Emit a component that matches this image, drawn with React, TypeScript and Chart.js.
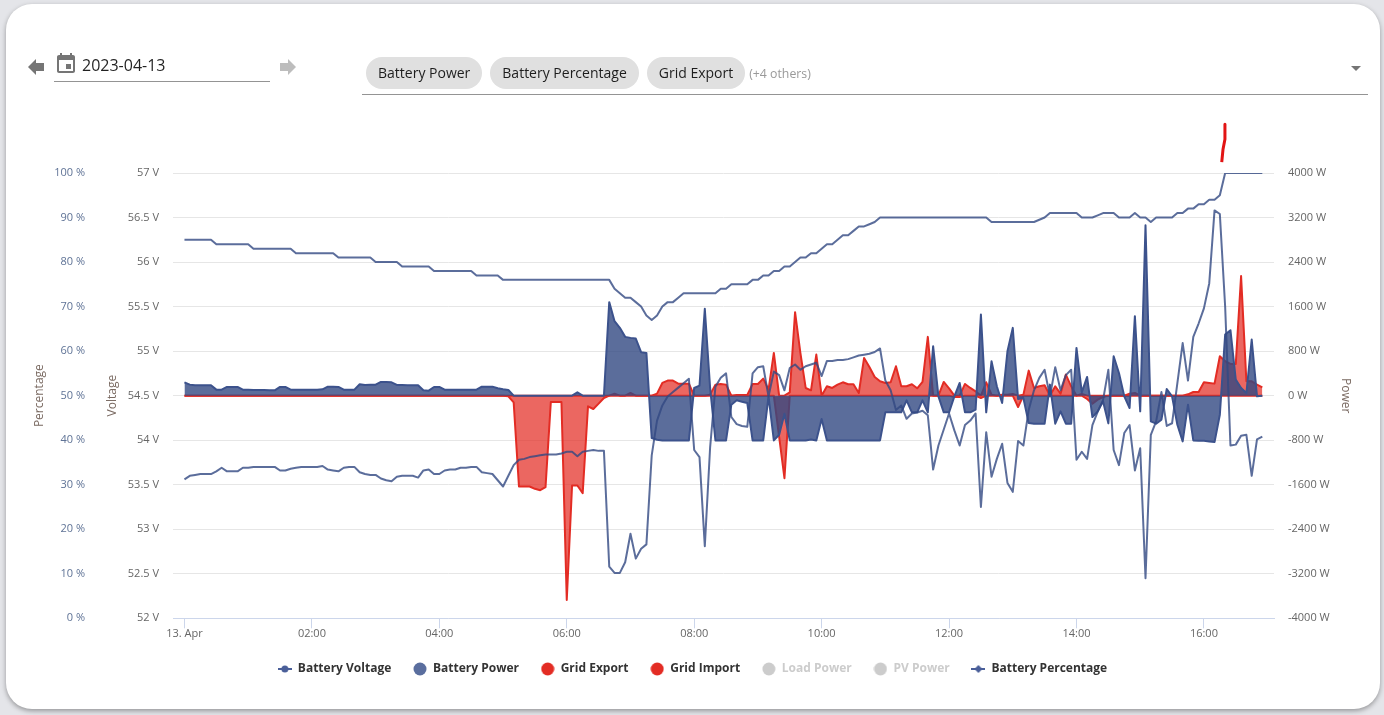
import { useEffect, useRef } from "react";
import { Chart, registerables } from "chart.js";

Chart.register(...registerables);

// one reading every 5 minutes, each row below is one hour
const sampleHours = Array.from({ length: 204 }, (_, i) => (i * 5) / 60);

const batteryVoltage = [
  53.56, 53.6, 53.61, 53.62, 53.62, 53.62, 53.65, 53.69, 53.65, 53.65, 53.65, 53.69,
  53.69, 53.7, 53.7, 53.7, 53.7, 53.7, 53.66, 53.66, 53.68, 53.69, 53.7, 53.7,
  53.7, 53.7, 53.71, 53.67, 53.66, 53.65, 53.69, 53.7, 53.7, 53.64, 53.62, 53.61,
  53.61, 53.57, 53.55, 53.54, 53.59, 53.6, 53.6, 53.6, 53.58, 53.66, 53.67, 53.62,
  53.62, 53.66, 53.67, 53.67, 53.69, 53.69, 53.7, 53.7, 53.64, 53.63, 53.62, 53.55,
  53.48, 53.6, 53.72, 53.78, 53.79, 53.81, 53.82, 53.83, 53.84, 53.84, 53.84, 53.85,
  53.87, 53.87, 53.82, 53.87, 53.88, 53.89, 53.88, 53.88, 52.58, 52.51, 52.51, 52.63,
  52.95, 52.67, 52.78, 52.83, 53.83, 54.22, 54.39, 54.49, 54.54, 54.59, 54.64, 54.69,
  53.89, 53.81, 52.81, 53.92, 54.6, 54.7, 54.75, 54.26, 54.18, 54.16, 54.15, 54.75,
  54.82, 54.83, 54.49, 54.77, 54.73, 54.56, 54.81, 54.85, 54.79, 54.83, 54.85, 54.87,
  54.72, 54.89, 54.89, 54.9, 54.9, 54.91, 54.93, 54.95, 54.96, 54.97, 54.99, 55.03,
  54.67, 54.56, 54.34, 54.39, 54.24, 54.3, 54.31, 54.33, 54.28, 53.67, 53.94, 54.12,
  54.3, 54.11, 53.94, 54.17, 54.22, 54.3, 53.25, 54.09, 53.59, 53.79, 53.96, 53.52,
  53.42, 53.99, 53.94, 54.34, 54.56, 54.7, 54.79, 54.49, 54.82, 54.56, 54.73, 54.79,
  53.78, 53.87, 53.79, 54.17, 54.32, 54.45, 54.79, 53.89, 53.72, 54.08, 54.17, 53.66,
  53.91, 52.45, 54.06, 54.21, 54.54, 54.16, 54.19, 54.64, 55.09, 54.67, 55.16, 55.31,
  55.48, 55.76, 56.58, 56.54, 55.5, 53.94, 53.95, 54.05, 54.06, 53.6, 54.01, 54.04,
];

const batteryPower = [
  240, 198, 186, 186, 186, 186, 108, 108, 156, 156, 156, 108,
  108, 102, 102, 100, 96, 96, 156, 156, 108, 108, 108, 108,
  108, 108, 114, 162, 162, 156, 108, 108, 108, 204, 192, 198,
  198, 246, 246, 240, 192, 192, 186, 186, 186, 96, 90, 156,
  156, 108, 108, 108, 108, 108, 108, 108, 162, 162, 162, 132,
  114, 102, 0, 0, 0, 0, 0, 0, 0, 0, 0, 0,
  0, 0, 60, 0, 0, 0, 0, 0, 1680, 1338, 1218, 1056,
  1038, 1026, 780, 768, -762, -792, -804, -804, -804, -804, -804, -804,
  138, 180, 1560, 138, -804, -804, -804, -162, -84, -108, -132, -804,
  -804, -804, -12, -804, -702, -324, -804, -804, -804, -804, -786, -804,
  -420, -804, -804, -804, -804, -804, -804, -804, -804, -804, -804, -804,
  -300, -300, -300, -300, -84, -300, -300, -84, -300, 888, -12, -300,
  -300, -12, 228, -300, -300, -252, 1458, -300, 618, 168, -132, 798,
  1218, -60, -42, -492, -504, -504, -504, 198, -504, -282, -504, -504,
  858, 60, 336, -384, -282, -102, -498, 708, 408, -12, -222, 1428,
  -282, 3060, -462, -504, -432, 120, -12, -522, -822, -162, -804, -810,
  -810, -822, -834, -342, 1098, 1176, 288, 138, 48, 1008, -12, 0,
];

const gridExport = [
  0, 0, 0, 0, 0, 0, 0, 0, 0, 0, 0, 0,
  0, 0, 0, 0, 0, 0, 0, 0, 0, 0, 0, 0,
  0, 0, 0, 0, 0, 0, 0, 0, 0, 0, 0, 0,
  0, 0, 0, 0, 0, 0, 0, 0, 0, 0, 0, 0,
  0, 0, 0, 0, 0, 0, 0, 0, 0, 0, 0, 0,
  0, -12, -120, -1632, -1632, -1632, -1674, -1698, -1644, -114, -114, -114,
  -3672, -1614, -1614, -1752, -192, -240, -144, -42, 0, 0, 0, 0,
  0, 0, 0, 0, 0, 0, 0, 0, 0, 0, 0, 0,
  0, 0, 0, 0, 0, 0, 0, 0, 0, 0, 0, 0,
  0, 0, 0, 0, -740, -1482, 0, 0, 0, 0, 0, 0,
  0, 0, 0, 0, 0, 0, 0, 0, 0, 0, 0, 0,
  0, 0, 0, 0, 0, 0, 0, 0, 0, 0, 0, 0,
  0, -24, -24, 0, 0, 0, -42, 0, 0, 0, 0, 0,
  0, -204, 0, 0, 0, 0, 0, 0, 0, 0, 0, 0,
  0, 0, -60, -144, -72, -24, 0, 0, 0, 0, 0, 0,
  0, 0, 0, 0, 0, 0, 0, 0, 0, 0, 0, 0,
  0, 0, 0, 0, 0, 0, 0, 0, 0, 0, 0, 0,
];

const gridImport = [
  0, 0, 0, 0, 0, 0, 0, 0, 0, 0, 0, 0,
  0, 0, 0, 0, 0, 0, 0, 0, 0, 0, 0, 0,
  0, 0, 0, 0, 0, 0, 0, 0, 0, 0, 0, 0,
  0, 0, 0, 0, 0, 0, 0, 0, 0, 0, 0, 0,
  0, 0, 0, 0, 0, 0, 0, 0, 0, 0, 0, 0,
  0, 0, 0, 0, 0, 0, 0, 0, 0, 0, 0, 0,
  0, 0, 0, 0, 0, 0, 0, 0, 0, 36, 0, 0,
  48, 0, 0, 0, 0, 36, 228, 270, 270, 216, 216, 216,
  0, 0, 0, 18, 198, 210, 198, 0, 12, 12, 12, 210,
  210, 306, 108, 768, 0, 0, 60, 1500, 768, 138, 96, 738,
  0, 168, 138, 198, 240, 204, 204, 48, 678, 516, 336, 258,
  228, 240, 528, 168, 168, 204, 132, 246, 1056, 0, 0, 246,
  132, 0, 0, 210, 138, 78, 0, 240, 18, 0, 18, 18,
  30, 0, 18, 450, 138, 168, 186, 0, 168, 36, 378, 168,
  0, 30, 0, 0, 0, 0, 0, 0, 0, 0, 36, 48,
  0, 0, 0, 0, 0, 0, 0, 0, 0, 24, 66, 66,
  240, 228, 216, 708, 618, 570, 570, 2148, 258, 258, 198, 150,
];

const batteryPercentage = [
  85, 85, 85, 85, 85, 85, 84, 84, 84, 84, 84, 84,
  84, 83, 83, 83, 83, 83, 83, 83, 83, 82, 82, 82,
  82, 82, 82, 82, 82, 81, 81, 81, 81, 81, 81, 81,
  80, 80, 80, 80, 80, 79, 79, 79, 79, 79, 79, 78,
  78, 78, 78, 78, 78, 78, 78, 77, 77, 77, 77, 77,
  76, 76, 76, 76, 76, 76, 76, 76, 76, 76, 76, 76,
  76, 76, 76, 76, 76, 76, 76, 76, 76, 74, 73, 72,
  72, 71, 70, 68, 67, 68, 70, 71, 71, 72, 73, 73,
  73, 73, 73, 73, 73, 74, 74, 75, 75, 75, 75, 76,
  76, 77, 77, 78, 78, 79, 79, 80, 81, 81, 82, 82,
  83, 84, 84, 85, 86, 86, 87, 88, 88, 88.5, 89, 90,
  90, 90, 90, 90, 90, 90, 90, 90, 90, 90, 90, 90,
  90, 90, 90, 90, 90, 90, 90, 90, 89, 89, 89, 89,
  89, 89, 89, 89, 89, 89.5, 90, 91, 91, 91, 91, 91,
  91, 90, 90, 90, 90.5, 91, 91, 91, 90, 90, 90, 91,
  90, 90, 89, 90, 90, 90, 90, 91, 91, 92, 92, 93,
  93, 94, 94, 95, 100, 100, 100, 100, 100, 100, 100, 100,
];

// hand-drawn pen mark above the chart in the screenshot
const penMarkHours = [16.33, 16.33, 16.3, 16.28];
const penMarkWatts = [4878, 4608, 4428, 4194];

const chipLabels = ["Battery Power", "Battery Percentage", "Grid Export"];
const hiddenSeries = ["Load Power", "PV Power"];

const BLUE_LINE = "rgba(50, 72, 130, 0.8)";
const BLUE_FILL = "rgba(50, 72, 130, 0.8)";
const RED_LINE = "rgb(227, 44, 36)";
const RED_FILL = "rgba(227, 44, 36, 0.72)";
const TICK_COLOR = "#666666";
const TICK_FONT = { family: "'Open Sans'", size: 11 };
const TITLE_FONT = { family: "'Open Sans'", size: 12 };

function toPoints(values: number[]) {
  return values.map((y, i) => ({ x: sampleHours[i], y }));
}

// legend symbol: a short line with a marker on it, or only a big dot
function legendIcon(kind: "circle" | "diamond" | "dot", color: string) {
  const c = document.createElement("canvas");
  c.width = 14;
  c.height = 14;
  const g = c.getContext("2d")!;
  g.fillStyle = color;
  g.strokeStyle = color;
  if (kind === "dot") {
    g.beginPath();
    g.arc(7, 7, 6.5, 0, Math.PI * 2);
    g.fill();
    return c;
  }
  g.lineWidth = 2;
  g.beginPath();
  g.moveTo(0, 7);
  g.lineTo(14, 7);
  g.stroke();
  g.beginPath();
  if (kind === "circle") {
    g.arc(7, 7, 3.5, 0, Math.PI * 2);
  } else {
    g.moveTo(7, 3);
    g.lineTo(11, 7);
    g.lineTo(7, 11);
    g.lineTo(3, 7);
    g.closePath();
  }
  g.fill();
  return c;
}

function BatteryChart() {
  const canvasRef = useRef<HTMLCanvasElement>(null);

  useEffect(() => {
    if (!canvasRef.current) return;

    const legendItems = [
      { text: "Battery Voltage", icon: legendIcon("circle", "#4a5f99"), on: true },
      { text: "Battery Power", icon: legendIcon("dot", "#5a6e9e"), on: true },
      { text: "Grid Export", icon: legendIcon("dot", "#e32c24"), on: true },
      { text: "Grid Import", icon: legendIcon("dot", "#e32c24"), on: true },
      ...hiddenSeries.map((text) => ({ text, icon: legendIcon("dot", "#cccccc"), on: false })),
      { text: "Battery Percentage", icon: legendIcon("diamond", "#4a5f99"), on: true },
    ];

    const chart = new Chart(canvasRef.current, {
      type: "line",
      data: {
        datasets: [
          {
            label: "Battery Voltage",
            data: toPoints(batteryVoltage),
            yAxisID: "voltage",
            borderColor: BLUE_LINE,
            borderWidth: 2,
          },
          {
            label: "Battery Power",
            data: toPoints(batteryPower),
            yAxisID: "power",
            borderColor: "rgb(60, 82, 140)",
            backgroundColor: BLUE_FILL,
            borderWidth: 2,
            fill: "origin",
          },
          {
            label: "Grid Export",
            data: toPoints(gridExport),
            yAxisID: "power",
            borderColor: RED_LINE,
            backgroundColor: RED_FILL,
            borderWidth: 2,
            fill: "origin",
          },
          {
            label: "Grid Import",
            data: toPoints(gridImport),
            yAxisID: "power",
            borderColor: RED_LINE,
            backgroundColor: RED_FILL,
            borderWidth: 2,
            fill: "origin",
          },
          { label: "Load Power", data: [], yAxisID: "power" },
          { label: "PV Power", data: [], yAxisID: "power" },
          {
            label: "Battery Percentage",
            data: toPoints(batteryPercentage),
            yAxisID: "percentage",
            borderColor: BLUE_LINE,
            borderWidth: 2,
          },
          {
            label: "pen",
            data: penMarkHours.map((x, i) => ({ x, y: penMarkWatts[i] })),
            yAxisID: "power",
            borderColor: "rgb(226, 20, 20)",
            borderWidth: 3,
            clip: false,
          },
        ],
      },
      options: {
        responsive: false,
        animation: false,
        elements: { point: { radius: 0 }, line: { tension: 0, borderJoinStyle: "round" } },
        layout: { padding: { top: 173, bottom: 30, left: 32, right: 31 } },
        plugins: {
          tooltip: { enabled: false },
          legend: {
            position: "bottom",
            labels: {
              usePointStyle: true,
              pointStyleWidth: 14,
              padding: 21.7,
              color: "#333333",
              font: { family: "'Open Sans'", size: 12, weight: "bold" },
              generateLabels: () =>
                legendItems.map((item) => ({
                  text: item.text,
                  pointStyle: item.icon,
                  fontColor: item.on ? "#333333" : "#cccccc",
                  hidden: false,
                })),
            },
            onClick: () => {},
          },
        },
        scales: {
          x: {
            type: "linear",
            min: -0.18,
            max: 17.1,
            afterFit: (s) => { s.height = 23; },
            border: { color: "#ccd6eb" },
            grid: { drawOnChartArea: false, color: "#ccd6eb", tickLength: 10 },
            ticks: {
              stepSize: 2,
              includeBounds: false,
              autoSkip: false,
              maxRotation: 0,
              padding: -1,
              color: TICK_COLOR,
              font: TICK_FONT,
              callback: (v) => (v === 0 ? "13. Apr" : `${String(v).padStart(2, "0")}:00`),
            },
          },
          percentage: {
            type: "linear",
            position: "left",
            weight: 2,
            min: 0,
            max: 100,
            afterFit: (s) => { s.width = 73; },
            border: { display: false },
            grid: { drawOnChartArea: false, drawTicks: false },
            title: { display: true, text: "Percentage", color: "#7a6a62", font: TITLE_FONT, padding: 0 },
            ticks: { stepSize: 10, padding: 20, color: "#5f7396", font: TICK_FONT, callback: (v) => `${v} %` },
          },
          voltage: {
            type: "linear",
            position: "left",
            weight: 1,
            min: 52,
            max: 57,
            afterFit: (s) => { s.width = 68; },
            border: { display: false },
            grid: { drawOnChartArea: false, drawTicks: false },
            title: { display: true, text: "Voltage", color: "#7a6a62", font: TITLE_FONT, padding: 0 },
            ticks: { stepSize: 0.5, padding: 14, color: TICK_COLOR, font: TICK_FONT, callback: (v) => `${v} V` },
          },
          power: {
            type: "linear",
            position: "right",
            min: -4000,
            max: 4000,
            afterFit: (s) => { s.width = 79; },
            border: { display: false },
            grid: { color: "#e6e6e6", drawTicks: false },
            title: { display: true, text: "Power", color: "#7a6a62", font: TITLE_FONT, padding: 0 },
            ticks: { stepSize: 800, padding: 14, color: TICK_COLOR, font: TICK_FONT, callback: (v) => `${v} W` },
          },
        },
      },
    });

    return () => chart.destroy();
  }, []);

  return <canvas ref={canvasRef} width={1384} height={715} style={{ position: "absolute", left: 0, top: 0 }} />;
}

const arrowPoints = "0,8 8,0 8,4 16,4 16,12 8,12 8,16";

export default function App() {
  return (
    <div style={{ position: "relative", width: 1384, height: 715, overflow: "hidden", fontFamily: "'Open Sans'" }}>
      <style>{"body { margin: 0; background: #e4e5e9; }"}</style>
      <div
        style={{
          position: "absolute",
          left: 6,
          top: 4,
          width: 1374,
          height: 705,
          background: "#fff",
          borderRadius: 26,
          boxShadow: "0 2px 5px rgba(0,0,0,0.35)",
        }}
      />
      <BatteryChart />

      <svg width="16" height="16" style={{ position: "absolute", left: 28, top: 59 }}>
        <polygon points={arrowPoints} fill="#757575" />
      </svg>
      <svg width="24" height="24" viewBox="0 0 24 24" style={{ position: "absolute", left: 54, top: 52 }}>
        <path
          fill="#757575"
          d="M17 12h-5v5h5v-5zM16 1v2H8V1H6v2H5c-1.11 0-1.99.9-1.99 2L3 19c0 1.1.89 2 2 2h14c1.1 0 2-.9 2-2V5c0-1.1-.9-2-2-2h-1V1h-2zm3 18H5V8h14v11z"
        />
      </svg>
      <div style={{ position: "absolute", left: 82, top: 54, fontSize: 16, lineHeight: "22px", color: "rgba(0,0,0,0.87)" }}>
        2023-04-13
      </div>
      <div style={{ position: "absolute", left: 54, top: 81, width: 216, height: 1, background: "#949494" }} />
      <svg width="16" height="16" style={{ position: "absolute", left: 280, top: 59, transform: "scaleX(-1)" }}>
        <polygon points={arrowPoints} fill="#bdbdbd" />
      </svg>

      <div style={{ position: "absolute", left: 366, top: 57, height: 32, display: "flex", alignItems: "center", gap: 8 }}>
        {chipLabels.map((label) => (
          <span
            key={label}
            style={{
              height: 32,
              lineHeight: "32px",
              padding: "0 12px",
              borderRadius: 16,
              background: "#e0e0e0",
              fontSize: 14,
              color: "rgba(0,0,0,0.87)",
            }}
          >
            {label}
          </span>
        ))}
        <span style={{ marginLeft: -4, fontSize: 12.3, color: "#999999" }}>(+4 others)</span>
      </div>
      <svg width="10" height="5" style={{ position: "absolute", left: 1351, top: 66 }}>
        <polygon points="0,0 10,0 5,5" fill="#757575" />
      </svg>
      <div style={{ position: "absolute", left: 362, top: 94, width: 1006, height: 1, background: "#949494" }} />
    </div>
  );
}
